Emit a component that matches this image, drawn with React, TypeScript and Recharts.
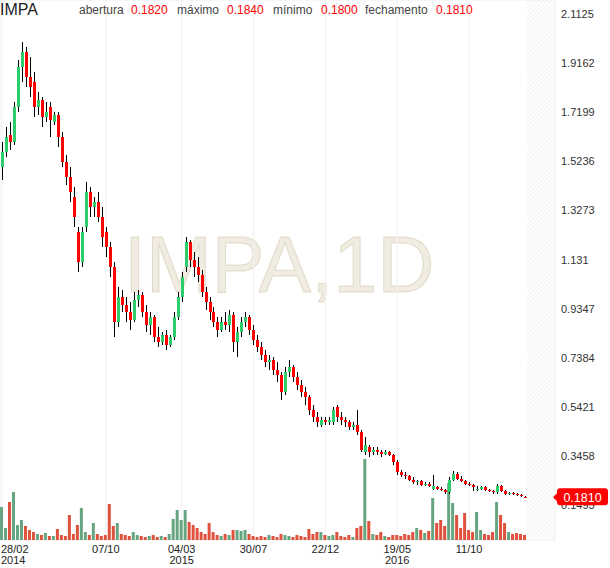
import React from "react";
import { ComposedChart, Bar, XAxis, YAxis, CartesianGrid, Cell } from "recharts";

const FONT = "Arial, 'Liberation Sans', Helvetica, sans-serif";
const UP = "#2fcc6b";
const DOWN = "#ff0000";
const VOL_UP = "#66a57f";
const VOL_DOWN = "#de513c";

// x-axis labels (index of the candle they sit under)
const dateIdx = [0, 26, 45, 63, 81, 99, 117];
const dateLabels = ["28/02", "07/10", "04/03", "30/07", "22/12", "19/05", "11/10"];
const yearLabels = ["2014", "", "2015", "", "", "2016", ""];

const priceTicks = [2.1125, 1.9162, 1.7199, 1.5236, 1.3273, 1.131, 0.9347, 0.7384, 0.5421, 0.3458, 0.1495];

const opens = [
  1.50, 1.56, 1.63, 1.60, 1.74, 1.90, 1.96, 1.86, 1.84, 1.74, 1.77, 1.70, 1.74, 1.68, 1.71, 1.62, 1.52, 1.46, 1.38, 1.24,
  1.12, 1.26, 1.40, 1.34, 1.36, 1.30, 1.24, 1.18, 1.10, 0.88, 0.98, 0.95, 0.92, 0.89, 0.97, 0.99, 0.92, 0.87, 0.90, 0.82,
  0.80, 0.83, 0.79, 0.82, 0.90, 0.98, 1.10, 1.20, 1.13, 1.10, 1.07, 1.00, 0.96, 0.92, 0.88, 0.85, 0.88, 0.87, 0.91, 0.80,
  0.84, 0.88, 0.90, 0.85, 0.81, 0.78, 0.75, 0.72, 0.73, 0.69, 0.67, 0.60, 0.68, 0.70, 0.66, 0.63, 0.60, 0.58, 0.53, 0.50,
  0.47, 0.49, 0.48, 0.48, 0.54, 0.50, 0.49, 0.48, 0.46, 0.47, 0.44, 0.36, 0.38, 0.36, 0.37, 0.36, 0.355, 0.36, 0.35, 0.32,
  0.28, 0.27, 0.265, 0.25, 0.24, 0.245, 0.23, 0.235, 0.214, 0.22, 0.215, 0.21, 0.20, 0.25, 0.275, 0.255, 0.245, 0.235, 0.23, 0.21,
  0.215, 0.22, 0.21, 0.205, 0.20, 0.225, 0.205, 0.195, 0.197, 0.192, 0.19, 0.182,
];
const highs = [
  1.60, 1.66, 1.68, 1.76, 1.93, 2.00, 1.98, 1.94, 1.88, 1.80, 1.78, 1.76, 1.76, 1.72, 1.72, 1.64, 1.55, 1.50, 1.42, 1.26,
  1.26, 1.44, 1.42, 1.38, 1.40, 1.34, 1.26, 1.20, 1.12, 1.02, 1.01, 0.98, 0.96, 1.00, 1.01, 1.00, 0.95, 0.92, 0.91, 0.86,
  0.84, 0.85, 0.83, 0.92, 1.00, 1.08, 1.22, 1.21, 1.16, 1.14, 1.09, 1.02, 0.98, 0.94, 0.90, 0.90, 0.92, 0.93, 0.92, 0.86,
  0.90, 0.92, 0.91, 0.87, 0.83, 0.80, 0.77, 0.75, 0.74, 0.72, 0.68, 0.70, 0.73, 0.71, 0.68, 0.65, 0.62, 0.59, 0.55, 0.52,
  0.50, 0.50, 0.50, 0.54, 0.55, 0.52, 0.50, 0.49, 0.48, 0.53, 0.45, 0.42, 0.39, 0.38, 0.38, 0.37, 0.37, 0.365, 0.355, 0.33,
  0.29, 0.28, 0.27, 0.26, 0.25, 0.25, 0.24, 0.24, 0.27, 0.225, 0.22, 0.215, 0.26, 0.285, 0.28, 0.265, 0.25, 0.24, 0.235, 0.225,
  0.225, 0.225, 0.215, 0.21, 0.235, 0.23, 0.21, 0.20, 0.20, 0.196, 0.192, 0.184,
];
const lows = [
  1.45, 1.54, 1.57, 1.59, 1.72, 1.84, 1.82, 1.78, 1.70, 1.71, 1.66, 1.68, 1.62, 1.67, 1.58, 1.50, 1.43, 1.36, 1.26, 1.08,
  1.10, 1.24, 1.30, 1.30, 1.28, 1.18, 1.14, 1.06, 0.82, 0.86, 0.92, 0.88, 0.85, 0.88, 0.94, 0.90, 0.84, 0.83, 0.80, 0.78,
  0.79, 0.77, 0.78, 0.81, 0.89, 0.96, 1.08, 1.10, 1.06, 1.04, 0.98, 0.93, 0.89, 0.86, 0.82, 0.84, 0.85, 0.84, 0.76, 0.74,
  0.82, 0.86, 0.83, 0.79, 0.76, 0.73, 0.70, 0.69, 0.67, 0.64, 0.57, 0.59, 0.66, 0.64, 0.61, 0.58, 0.55, 0.51, 0.48, 0.46,
  0.46, 0.47, 0.47, 0.47, 0.48, 0.47, 0.46, 0.45, 0.45, 0.43, 0.36, 0.35, 0.34, 0.35, 0.35, 0.34, 0.35, 0.345, 0.31, 0.27,
  0.26, 0.255, 0.245, 0.235, 0.23, 0.225, 0.225, 0.22, 0.21, 0.21, 0.205, 0.195, 0.195, 0.245, 0.25, 0.24, 0.23, 0.225, 0.205, 0.205,
  0.21, 0.205, 0.20, 0.195, 0.195, 0.20, 0.19, 0.19, 0.188, 0.186, 0.182, 0.180,
];
const closes = [
  1.56, 1.62, 1.60, 1.74, 1.90, 1.96, 1.86, 1.82, 1.74, 1.77, 1.70, 1.72, 1.69, 1.71, 1.62, 1.52, 1.46, 1.40, 1.30, 1.12,
  1.24, 1.40, 1.34, 1.36, 1.30, 1.22, 1.18, 1.10, 0.88, 0.98, 0.95, 0.92, 0.89, 0.97, 0.99, 0.92, 0.87, 0.90, 0.82, 0.80,
  0.83, 0.79, 0.82, 0.90, 0.98, 1.06, 1.20, 1.13, 1.10, 1.07, 1.00, 0.96, 0.92, 0.88, 0.85, 0.88, 0.87, 0.91, 0.80, 0.84,
  0.88, 0.90, 0.85, 0.81, 0.78, 0.75, 0.72, 0.73, 0.69, 0.67, 0.60, 0.68, 0.70, 0.66, 0.63, 0.60, 0.58, 0.53, 0.50, 0.48,
  0.49, 0.48, 0.49, 0.53, 0.50, 0.49, 0.48, 0.46, 0.47, 0.44, 0.37, 0.39, 0.36, 0.37, 0.36, 0.355, 0.36, 0.35, 0.32, 0.28,
  0.27, 0.265, 0.25, 0.24, 0.245, 0.23, 0.235, 0.225, 0.225, 0.215, 0.21, 0.20, 0.25, 0.275, 0.255, 0.245, 0.235, 0.23, 0.22, 0.215,
  0.22, 0.21, 0.205, 0.20, 0.225, 0.205, 0.195, 0.197, 0.192, 0.19, 0.185, 0.181,
];
// volume, thousands of shares
const volumes = [
  3300, 1200, 3800, 4800, 1500, 2000, 1400, 1000, 800, 600, 500, 700, 400, 400, 1100, 500, 400, 2500, 600, 1500,
  3200, 800, 500, 1700, 600, 400, 500, 3600, 1400, 1700, 600, 500, 400, 800, 500, 400, 300, 400, 500, 300,
  400, 300, 600, 2100, 3000, 2000, 3000, 1800, 1500, 1200, 800, 600, 1700, 800, 500, 400, 600, 500, 1000, 1000,
  900, 1000, 600, 400, 300, 400, 300, 500, 400, 300, 600, 500, 400, 300, 500, 400, 300, 1100, 600, 800,
  800, 500, 400, 500, 800, 400, 300, 500, 300, 1200, 1400, 8100, 1900, 600, 500, 800, 400, 300, 500, 500,
  400, 600, 500, 800, 1200, 1000, 700, 900, 4200, 1700, 2000, 1400, 5700, 3700, 2500, 1200, 2700, 1000, 800, 2800,
  1000, 600, 500, 800, 3800, 2500, 1700, 800, 600, 700, 600, 500,
];
const lastClose = closes[closes.length - 1];

const header = [
  { label: "abertura", value: "0.1820", x: 79, vx: 131 },
  { label: "máximo", value: "0.1840", x: 177, vx: 227 },
  { label: "mínimo", value: "0.1800", x: 273, vx: 321 },
  { label: "fechamento", value: "0.1810", x: 365, vx: 436 },
];

const Candle = (props: any) => {
  const { x, y, width, height, payload } = props;
  if (x == null || y == null) return null;
  const { open, close, high, low } = payload;
  const top = Math.min(y, y + height);
  const h = Math.abs(height);
  const span = high - low;
  const toY = (v: number) => (span === 0 ? top : top + ((high - v) / span) * h);
  const cx = Math.round(x + width / 2);
  const yo = toY(open);
  const yc = toY(close);
  const bTop = Math.min(yo, yc);
  const bH = Math.max(1, Math.abs(yo - yc));
  const up = close >= open;
  return (
    <g shapeRendering="crispEdges">
      <rect x={cx} y={top} width={1} height={Math.max(1, h)} fill="#000" />
      <rect x={cx - 1} y={bTop} width={3} height={bH} fill={up ? UP : DOWN} />
    </g>
  );
};

const DateTick = (props: any) => {
  const { x, payload } = props;
  const k = dateIdx.indexOf(payload.value);
  if (k < 0) return null;
  const first = k === 0;
  const tx = first ? 1 : x;
  const anchor = first ? "start" : "middle";
  return (
    <g>
      <text x={tx} y={553} textAnchor={anchor} fontSize={11} fill="#222" fontFamily={FONT}>
        {dateLabels[k]}
      </text>
      {yearLabels[k] && (
        <text x={tx} y={564} textAnchor={anchor} fontSize={11} fill="#222" fontFamily={FONT}>
          {yearLabels[k]}
        </text>
      )}
    </g>
  );
};

// price labels; the last tick is the last close and is drawn as the red price tag,
// after the others so it sits over them
const PriceTick = (props: any) => {
  const { y, payload } = props;
  const v = Number(payload.value);
  if (v === lastClose) {
    const x = 557;
    return (
      <g>
        <path d={`M${x - 4},${y} L${x + 1},${y - 5} L${x + 1},${y + 5} Z`} fill="#ff0000" />
        <rect x={x} y={y - 9} width={51} height={17} rx={3} fill="#ff0000" />
        <text x={x + 25.5} y={y + 4.5} textAnchor="middle" fontSize={12.5} fill="#fff" fontFamily={FONT}>
          {v.toFixed(4)}
        </text>
      </g>
    );
  }
  return (
    <text x={561} y={y + 4} fontSize={11} fill="#333" fontFamily={FONT}>
      {String(payload.value)}
    </text>
  );
};

export default function App() {
  const data = opens.map((o, i) => ({
    i,
    open: o,
    high: highs[i],
    low: lows[i],
    close: closes[i],
    range: [lows[i], highs[i]],
    vol: volumes[i],
    up: closes[i] >= o,
  }));

  return (
    <div style={{ position: "absolute", left: 0, top: 0, width: 610, height: 568, background: "#fff" }}>
      <svg style={{ position: "absolute", left: 0, top: 0 }} width={610} height={568}>
        <defs>
          <pattern id="hatch" width="3" height="3" patternUnits="userSpaceOnUse" patternTransform="rotate(45)">
            <line x1="0" y1="0" x2="0" y2="3" stroke="#e6e6e6" strokeWidth="1" />
          </pattern>
        </defs>
        <rect x={527} y={0} width={28} height={540} fill="url(#hatch)" />
        <text
          x={124}
          y={292}
          fontSize={79}
          fontFamily={FONT}
          fill="rgba(222,212,188,0.45)"
          stroke="rgba(200,188,158,0.45)"
          strokeWidth={1}
        >
          IMPA,1D
        </text>
      </svg>
      <div style={{ position: "absolute", left: 0, top: 0 }}>
        <ComposedChart width={610} height={568} data={data} margin={{ top: 0, right: 0, left: 0, bottom: 0 }}>
          <CartesianGrid xAxisId="main" yAxisId="grid" stroke="#efefef" />
          <XAxis
            xAxisId="main"
            dataKey="i"
            type="category"
            ticks={dateIdx}
            interval={0}
            tickLine={false}
            axisLine={false}
            height={28}
            padding={{ left: 0, right: 28 }}
            tick={<DateTick />}
          />
          <XAxis xAxisId="vol" dataKey="i" type="category" hide padding={{ left: 0, right: 28 }} />
          <YAxis
            yAxisId="p"
            orientation="right"
            domain={[0.0096, 2.1685]}
            ticks={[...priceTicks, lastClose]}
            interval={0}
            width={55}
            tickLine={false}
            axisLine={false}
            tick={<PriceTick />}
          />
          <YAxis yAxisId="grid" hide domain={[0.0096, 2.1685]} ticks={priceTicks} interval={0} />
          <YAxis yAxisId="v" hide domain={[0, 54000]} />
          <Bar xAxisId="vol" yAxisId="v" dataKey="vol" barSize={3} isAnimationActive={false}>
            {data.map((d, k) => (
              <Cell key={k} fill={d.up ? VOL_UP : VOL_DOWN} />
            ))}
          </Bar>
          <Bar xAxisId="main" yAxisId="p" dataKey="range" isAnimationActive={false} shape={<Candle />} />
        </ComposedChart>
      </div>
      <svg style={{ position: "absolute", left: 0, top: 0, pointerEvents: "none" }} width={610} height={24}>
        <text x={0} y={15} fontSize={16} fill="#222" fontFamily={FONT}>
          IMPA
        </text>
        {header.map((h) => (
          <g key={h.label}>
            <text x={h.x} y={14} fontSize={12} fill="#444" fontFamily={FONT}>
              {h.label}
            </text>
            <text x={h.vx} y={14} fontSize={12} fill="#ff0000" fontFamily={FONT}>
              {h.value}
            </text>
          </g>
        ))}
      </svg>
    </div>
  );
}
